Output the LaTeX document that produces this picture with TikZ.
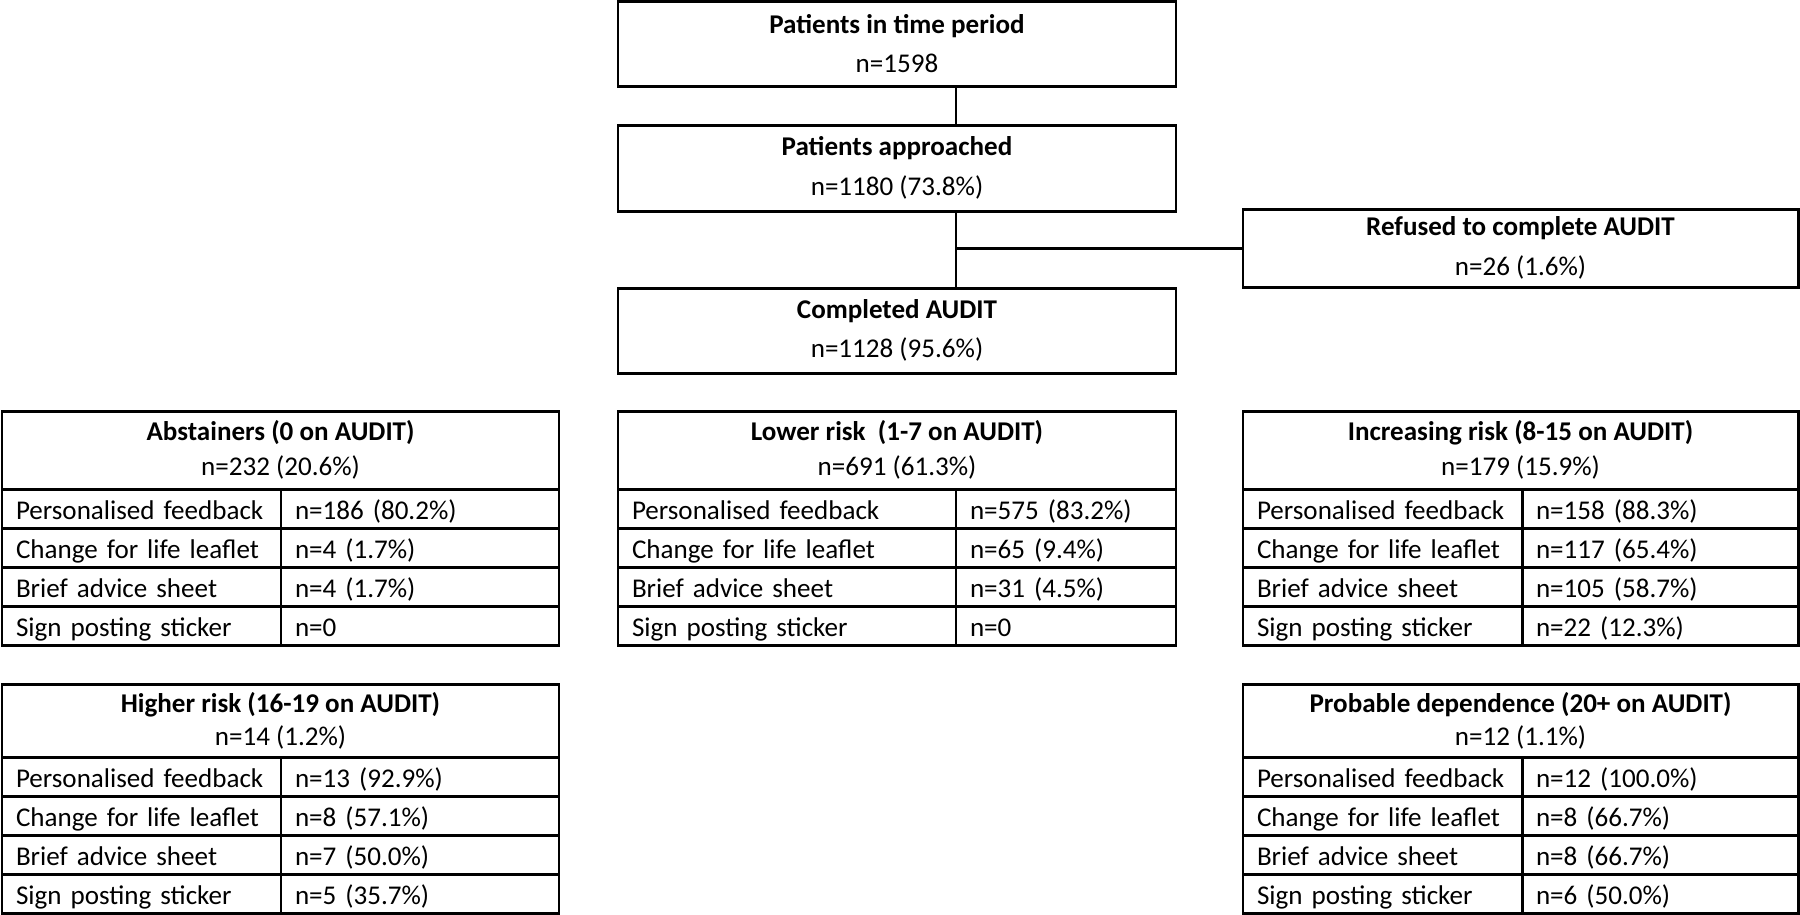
\documentclass[tikz,border=0pt]{standalone}
\usepackage{fontspec}
\setmainfont{Carlito}
\usetikzlibrary{positioning}

\begin{document}
\begin{tikzpicture}[
  font=\fontsize{7.7}{9.4}\selectfont,
  line width=0.85pt,
  stage/.style={draw, minimum width=5.58cm, minimum height=0.85cm, align=center, inner sep=0pt, outer sep=0pt, font=\fontsize{7.7}{11.3}\selectfont},
  tabhead/.style={draw, anchor=north west, minimum height=0.78cm, align=center, inner sep=0pt, outer sep=0pt, font=\fontsize{7.7}{10}\selectfont},
  cell/.style={draw, minimum height=0.39cm, text width=#1, inner xsep=0.14cm, inner ysep=0pt, outer sep=0pt, align=left, text height=7.5pt, text depth=1.5pt}
]
\useasboundingbox (0,0) rectangle (18,-9.14);

% flow of patients
\node[stage] (period) at (8.97,-0.435) {\textbf{Patients in time period}\\n=1598};
\node[stage, below=0.39cm of period, minimum height=0.86cm] (approach) {\textbf{Patients approached}\\n=1180 (73.8\%)};
\node[stage, below=0.77cm of approach] (complete) {\textbf{Completed AUDIT}\\n=1128 (95.6\%)};
\node[stage, minimum width=5.55cm, minimum height=0.78cm] (refuse) at (15.205,-2.48) {\textbf{Refused to complete AUDIT}\\n=26 (1.6\%)};

\coordinate (spine) at (9.56,0);
\draw (period.south -| spine) -- (approach.north -| spine);
\draw (approach.south -| spine) -- (complete.north -| spine);
\draw (refuse.west) -- (refuse.west -| spine);

% abstainers
\node[tabhead, minimum width=5.57cm] (abst) at (0.02,-4.11) {\textbf{Abstainers (0 on AUDIT)}\\n=232 (20.6\%)};
\node[cell=2.51cm, below right=0pt and 0pt of abst.south west] (abst1) {Personalised feedback};
\node[cell=2.50cm, right=0pt of abst1] (abst1n) {n=186 (80.2\%)};
\node[cell=2.51cm, below=0pt of abst1] (abst2) {Change for life leaflet};
\node[cell=2.50cm, right=0pt of abst2] (abst2n) {n=4 (1.7\%)};
\node[cell=2.51cm, below=0pt of abst2] (abst3) {Brief advice sheet};
\node[cell=2.50cm, right=0pt of abst3] (abst3n) {n=4 (1.7\%)};
\node[cell=2.51cm, below=0pt of abst3] (abst4) {Sign posting sticker};
\node[cell=2.50cm, right=0pt of abst4] (abst4n) {n=0};

% lower risk
\node[tabhead, minimum width=5.58cm] (lower) at (6.18,-4.11) {\textbf{Lower risk~ (1-7 on AUDIT)}\\n=691 (61.3\%)};
\node[cell=3.10cm, below right=0pt and 0pt of lower.south west] (lower1) {Personalised feedback};
\node[cell=1.92cm, right=0pt of lower1] (lower1n) {n=575 (83.2\%)};
\node[cell=3.10cm, below=0pt of lower1] (lower2) {Change for life leaflet};
\node[cell=1.92cm, right=0pt of lower2] (lower2n) {n=65 (9.4\%)};
\node[cell=3.10cm, below=0pt of lower2] (lower3) {Brief advice sheet};
\node[cell=1.92cm, right=0pt of lower3] (lower3n) {n=31 (4.5\%)};
\node[cell=3.10cm, below=0pt of lower3] (lower4) {Sign posting sticker};
\node[cell=1.92cm, right=0pt of lower4] (lower4n) {n=0};

% increasing risk
\node[tabhead, minimum width=5.55cm] (incr) at (12.43,-4.11) {\textbf{Increasing risk (8-15 on AUDIT)}\\n=179 (15.9\%)};
\node[cell=2.51cm, below right=0pt and 0pt of incr.south west] (incr1) {Personalised feedback};
\node[cell=2.48cm, right=0pt of incr1] (incr1n) {n=158 (88.3\%)};
\node[cell=2.51cm, below=0pt of incr1] (incr2) {Change for life leaflet};
\node[cell=2.48cm, right=0pt of incr2] (incr2n) {n=117 (65.4\%)};
\node[cell=2.51cm, below=0pt of incr2] (incr3) {Brief advice sheet};
\node[cell=2.48cm, right=0pt of incr3] (incr3n) {n=105 (58.7\%)};
\node[cell=2.51cm, below=0pt of incr3] (incr4) {Sign posting sticker};
\node[cell=2.48cm, right=0pt of incr4] (incr4n) {n=22 (12.3\%)};

% higher risk
\node[tabhead, minimum width=5.57cm, minimum height=0.73cm, font=\fontsize{7.7}{9.4}\selectfont] (high) at (0.02,-6.84) {\textbf{Higher risk (16-19 on AUDIT)}\\n=14 (1.2\%)};
\node[cell=2.51cm, below right=0pt and 0pt of high.south west] (high1) {Personalised feedback};
\node[cell=2.50cm, right=0pt of high1] (high1n) {n=13 (92.9\%)};
\node[cell=2.51cm, below=0pt of high1] (high2) {Change for life leaflet};
\node[cell=2.50cm, right=0pt of high2] (high2n) {n=8 (57.1\%)};
\node[cell=2.51cm, below=0pt of high2] (high3) {Brief advice sheet};
\node[cell=2.50cm, right=0pt of high3] (high3n) {n=7 (50.0\%)};
\node[cell=2.51cm, below=0pt of high3] (high4) {Sign posting sticker};
\node[cell=2.50cm, right=0pt of high4] (high4n) {n=5 (35.7\%)};

% probable dependence
\node[tabhead, minimum width=5.55cm, minimum height=0.73cm, font=\fontsize{7.7}{9.4}\selectfont] (depend) at (12.43,-6.84) {\textbf{Probable dependence (20+ on AUDIT)}\\n=12 (1.1\%)};
\node[cell=2.51cm, below right=0pt and 0pt of depend.south west] (depend1) {Personalised feedback};
\node[cell=2.48cm, right=0pt of depend1] (depend1n) {n=12 (100.0\%)};
\node[cell=2.51cm, below=0pt of depend1] (depend2) {Change for life leaflet};
\node[cell=2.48cm, right=0pt of depend2] (depend2n) {n=8 (66.7\%)};
\node[cell=2.51cm, below=0pt of depend2] (depend3) {Brief advice sheet};
\node[cell=2.48cm, right=0pt of depend3] (depend3n) {n=8 (66.7\%)};
\node[cell=2.51cm, below=0pt of depend3] (depend4) {Sign posting sticker};
\node[cell=2.48cm, right=0pt of depend4] (depend4n) {n=6 (50.0\%)};
\end{tikzpicture}
\end{document}
